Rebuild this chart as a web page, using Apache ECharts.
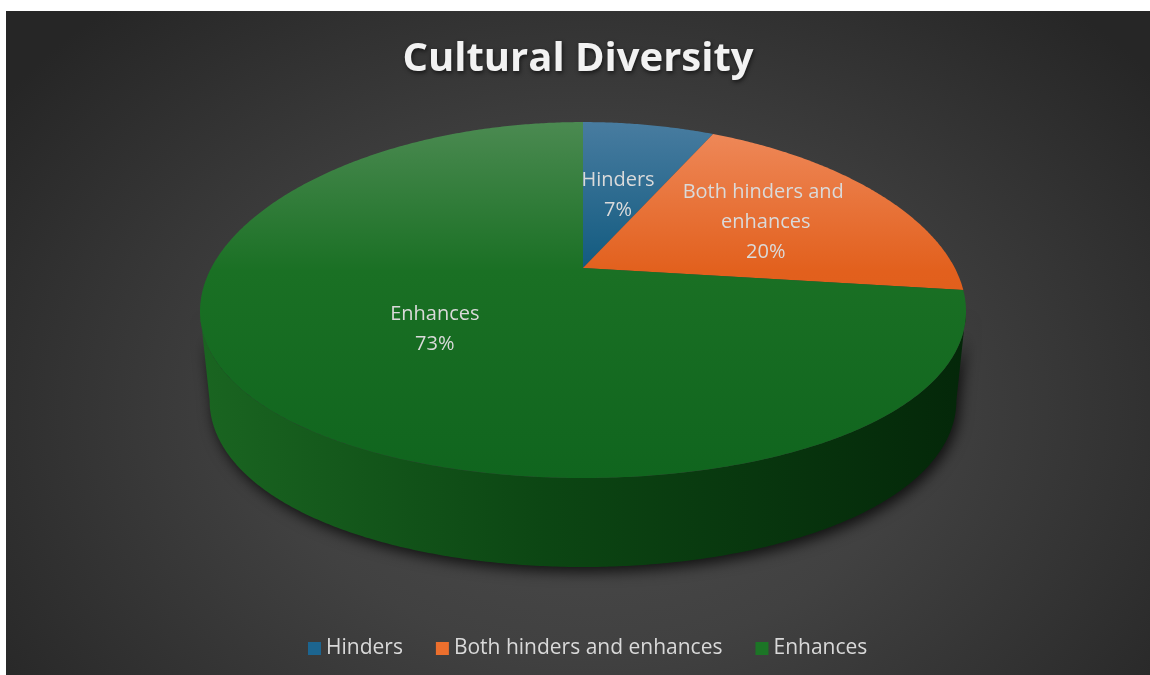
<!DOCTYPE html>
<html>
<head>
<meta charset="utf-8">
<title>Cultural Diversity</title>
<script src="https://cdn.jsdelivr.net/npm/echarts@6/dist/echarts.min.js"></script>
<style>
  html, body { margin: 0; padding: 0; background: #ffffff; }
  #chart {
    position: absolute; left: 6px; top: 11px; width: 1144px; height: 664px;
    background: radial-gradient(ellipse 720px 540px at 51% 60%, #4d4d4d 0%, #414141 45%, #262626 100%);
  }
</style>
</head>
<body>
<div id="chart"></div>
<script>
// Survey answers and their shares (percent)
const categories = ['Hinders', 'Both hinders and enhances', 'Enhances'];
const shares = [7, 20, 73];

// Slice colours: top face gradient stops and legend swatch
const topColors = [
  ['#487ca0', '#115a7f', '#0e5274'],
  ['#ef8b5d', '#e2601d', '#d95618'],
  ['#4b8a51', '#1a7024', '#10651e']
];
const swatch = ['#1c6590', '#ec6f2d', '#1c7526'];
// Radial position of each data label, as a fraction of the radius
const labelRadius = [0.48, 0.6, 0.49];

// Tilted-disc projection of the pie
const geo = {
  cx: 577, cy: 257,      // projected centre of the top face
  sx: 371.8, sy: 172.2,  // horizontal / vertical radius scale
  kx: 0.24, ky: 0.18,    // perspective foreshortening
  depth: 89,             // thickness of the disc
  bottomScale: 0.975
};

const total = shares.reduce((a, b) => a + b, 0);
const startAngles = [];
shares.reduce((acc, v, i) => { startAngles[i] = acc; return acc + v; }, 0);

function project(theta, r, bottom) {
  const X = r * Math.sin(theta), Z = r * Math.cos(theta);
  let x = geo.cx + geo.sx * X / (1 + geo.kx * Z);
  let y = geo.cy - geo.sy * Z / (1 + geo.ky * Z);
  if (bottom) {
    x = geo.cx + (x - geo.cx) * geo.bottomScale;
    y += geo.depth;
  }
  return [x, y];
}

function arc(a0, a1, bottom) {
  const pts = [];
  const steps = Math.max(2, Math.ceil((a1 - a0) / (Math.PI / 360)));
  for (let i = 0; i <= steps; i++) {
    pts.push(project(a0 + (a1 - a0) * i / steps, 1, bottom));
  }
  return pts;
}

// Extent of the top face, used for the gradients
const yTop = project(0, 1, false)[1];
const yBottom = project(Math.PI, 1, false)[1];
const xLeft = geo.cx - geo.sx / Math.sqrt(1 - geo.kx * geo.kx);
const xRight = geo.cx + geo.sx / Math.sqrt(1 - geo.kx * geo.kx);
// Silhouette angles where the outer wall turns out of view
const thetaR = Math.acos(-geo.kx);
const thetaL = 2 * Math.PI - thetaR;

function renderSlice(idx) {
  return function (params, api) {
    const value = api.value(0);
    const a0 = startAngles[idx] / total * 2 * Math.PI;
    const a1 = (startAngles[idx] + value) / total * 2 * Math.PI;
    const children = [];

    // visible part of the outer wall
    const w0 = Math.max(a0, thetaR), w1 = Math.min(a1, thetaL);
    if (w1 > w0) {
      const topArc = arc(w0, w1, false);
      const botArc = arc(w0, w1, true).reverse();
      children.push({
        type: 'polygon',
        z2: 1,
        shape: { points: topArc.concat(botArc) },
        style: {
          fill: new echarts.graphic.LinearGradient(xLeft, 0, xRight, 0, [
            { offset: 0, color: '#1a6521' },
            { offset: 0.45, color: '#0c4613' },
            { offset: 1, color: '#042709' }
          ], true),
          shadowColor: 'rgba(0,0,0,0.75)',
          shadowBlur: 14,
          shadowOffsetX: 3,
          shadowOffsetY: 5
        }
      });
    }

    // top face
    const c = topColors[idx];
    children.push({
      type: 'polygon',
      z2: 10,
      shape: { points: [project(0, 0, false)].concat(arc(a0, a1, false)) },
      style: {
        fill: new echarts.graphic.LinearGradient(0, yTop, 0, yBottom, [
          { offset: 0, color: c[0] },
          { offset: 0.42, color: c[1] },
          { offset: 1, color: c[2] }
        ], true)
      }
    });

    // data label
    const mid = (a0 + a1) / 2;
    const lp = project(mid, labelRadius[idx], false);
    children.push({
      type: 'text',
      z2: 20,
      x: lp[0], y: lp[1] + 2,
      style: {
        text: categories[idx] + '\n' + Math.round(value / total * 100) + '%',
        fill: '#dadada',
        font: '20px "Open Sans", sans-serif',
        lineHeight: 30,
        width: 178,
        overflow: 'break',
        align: 'center',
        verticalAlign: 'middle'
      }
    });

    return { type: 'group', children: children };
  };
}

const chart = echarts.init(document.getElementById('chart'), null, { renderer: 'canvas' });

chart.setOption({
  animation: false,
  title: {
    text: 'Cultural Diversity',
    left: 'center',
    top: 24,
    textStyle: {
      color: '#f2f2f2',
      fontSize: 40,
      fontWeight: 'bold',
      fontFamily: 'Open Sans',
      textShadowColor: 'rgba(0,0,0,0.6)',
      textShadowBlur: 4,
      textShadowOffsetX: 1,
      textShadowOffsetY: 2
    }
  },
  legend: {
    data: categories,
    left: 297,
    top: 622,
    icon: 'rect',
    itemWidth: 13,
    itemHeight: 13,
    itemGap: 33,
    selectedMode: false,
    textStyle: { color: '#d9d9d9', fontSize: 21, fontFamily: 'Open Sans' }
  },
  series: categories.map((name, i) => ({
    type: 'custom',
    name: name,
    coordinateSystem: 'none',
    silent: true,
    itemStyle: { color: swatch[i] },
    renderItem: renderSlice(i),
    data: [[shares[i]]]
  }))
});
</script>
</body>
</html>
